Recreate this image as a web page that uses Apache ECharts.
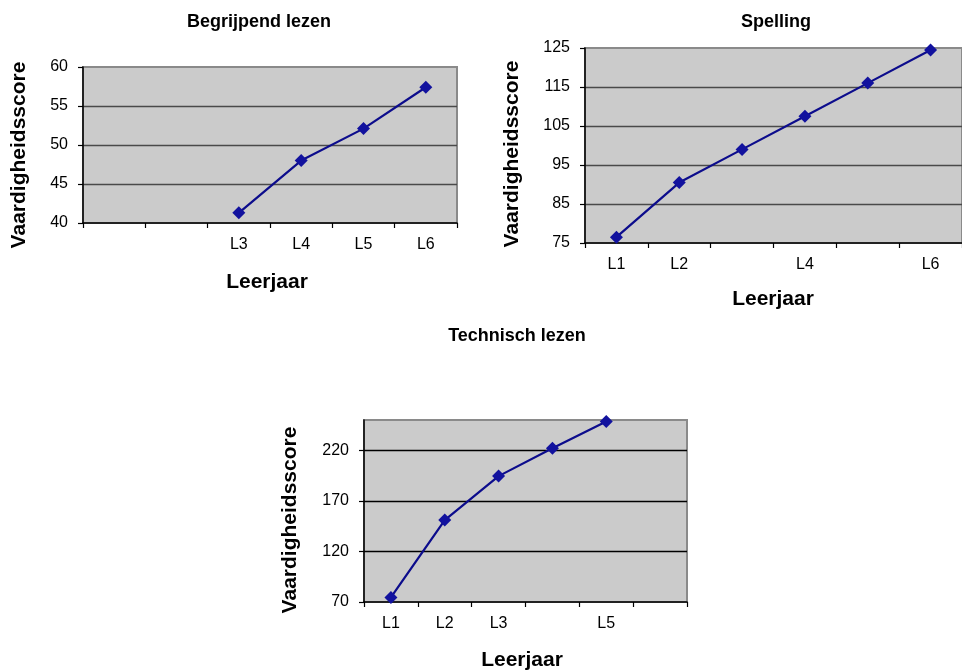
<!DOCTYPE html>
<html>
<head>
<meta charset="utf-8">
<style>
  html, body { margin: 0; padding: 0; background: #ffffff; }
  #chart { width: 962px; height: 672px; }
</style>
<script src="https://cdn.jsdelivr.net/npm/echarts@6/dist/echarts.min.js"></script>
</head>
<body>
<div id="chart"></div>
<script>
// ---- Data ----
const titles = ["Begrijpend lezen", "Spelling", "Technisch lezen"];
const yAxisName = "Vaardigheidsscore";
const xAxisName = "Leerjaar";

// Begrijpend lezen
const catsBegrijpend = ["", " ", "L3", "L4", "L5", "L6"];
const valsBegrijpend = [null, null, 41.3, 48.0, 52.1, 57.4];

// Spelling
const catsSpelling = ["L1", "L2", "", "L4", " ", "L6"];
const valsSpelling = [76.5, 90.5, 99.0, 107.5, 116.0, 124.5];

// Technisch lezen
const catsTechnisch = ["L1", "L2", "L3", "", "L5", " "];
const valsTechnisch = [74.5, 151.0, 194.5, 222.0, 248.5, null];

// y-axis ranges [min, max, interval]
const yRangeBegrijpend = [40, 60, 5];
const yRangeSpelling = [75, 125, 10];
const yRangeTechnisch = [70, 250, 50];

// ---- Styling ----
const FONT = '"Liberation Sans", Arial, sans-serif';
const LINE_COLOR = '#0c0c8c';
const MARK_COLOR = '#12129e';
const PLOT_BG = '#cbcbcb';

const grids = [
  { left: 83, top: 67, width: 374, height: 156 },
  { left: 585, top: 48, width: 385, height: 195 },
  { left: 364, top: 420, width: 323, height: 182 }
];
const gridLineColors = ['#4a4a4a', '#4a4a4a', '#000000'];

function makeX(idx, cats) {
  return {
    type: 'category', gridIndex: idx, data: cats, boundaryGap: true,
    axisLine: { show: true, lineStyle: { color: '#000', width: 1.5 } },
    axisTick: { show: true, interval: 0, length: 5, inside: false, lineStyle: { color: '#000', width: 1.2 } },
    axisLabel: { interval: 0, fontSize: 16, color: '#000', fontFamily: FONT, margin: 14 },
    splitLine: { show: false }
  };
}
function makeY(idx, range, showMax) {
  return {
    type: 'value', gridIndex: idx, min: range[0], max: range[1], interval: range[2],
    axisLine: { show: true, lineStyle: { color: '#000', width: 1.5 } },
    axisTick: { show: true, length: 5, inside: false, lineStyle: { color: '#000', width: 1.2 } },
    axisLabel: { fontSize: 16, color: '#000', fontFamily: FONT, margin: 15, showMaxLabel: showMax },
    splitLine: { show: true, showMinLine: false, showMaxLine: false, lineStyle: { color: gridLineColors[idx], width: 1.4 } }
  };
}
function makeSeries(idx, vals) {
  return {
    type: 'line', xAxisIndex: idx, yAxisIndex: idx, data: vals,
    symbol: 'diamond', symbolSize: 13, showSymbol: true,
    lineStyle: { color: LINE_COLOR, width: 2.2 },
    itemStyle: { color: MARK_COLOR },
    emphasis: { disabled: true },
    animation: false
  };
}
function txt(x, y, text, font, rot) {
  return {
    type: 'text', x: x, y: y, rotation: rot || 0, silent: true,
    style: {
      text: text, font: font, fill: '#000',
      align: 'center', verticalAlign: 'middle',
      textAlign: 'center', textVerticalAlign: 'middle'
    }
  };
}

const TITLE_FONT = 'bold 18px ' + FONT;
const NAME_FONT = 'bold 21px ' + FONT;

const chart = echarts.init(document.getElementById('chart'), null, { renderer: 'canvas' });
chart.setOption({
  animation: false,
  backgroundColor: '#ffffff',
  grid: grids.map(g => Object.assign({
    show: true, backgroundColor: PLOT_BG, borderColor: '#8a8a8a', borderWidth: 2, containLabel: false
  }, g)),
  xAxis: [makeX(0, catsBegrijpend), makeX(1, catsSpelling), makeX(2, catsTechnisch)],
  yAxis: [makeY(0, yRangeBegrijpend, true), makeY(1, yRangeSpelling, true), makeY(2, yRangeTechnisch, false)],
  series: [makeSeries(0, valsBegrijpend), makeSeries(1, valsSpelling), makeSeries(2, valsTechnisch)],
  graphic: [
    txt(259, 22, titles[0], TITLE_FONT),
    txt(776, 22, titles[1], TITLE_FONT),
    txt(517, 336, titles[2], TITLE_FONT),
    txt(19, 155, yAxisName, NAME_FONT, Math.PI / 2),
    txt(512, 154, yAxisName, NAME_FONT, Math.PI / 2),
    txt(290, 520, yAxisName, NAME_FONT, Math.PI / 2),
    txt(267, 282, xAxisName, NAME_FONT),
    txt(773, 299, xAxisName, NAME_FONT),
    txt(522, 660, xAxisName, NAME_FONT)
  ]
});
</script>
</body>
</html>
